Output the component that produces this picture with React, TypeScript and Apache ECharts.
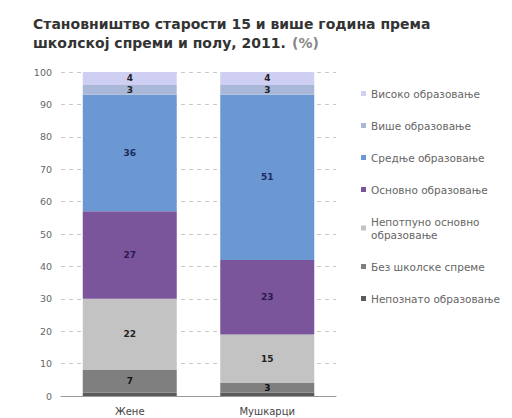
import React, { useEffect, useRef } from "react";
import * as echarts from "echarts";

const categories = ["Жене", "Мушкарци"];
const seriesNames = [
  "Непознато образовање",
  "Без школске спреме",
  "Непотпуно основно образовање",
  "Основно образовање",
  "Средње образовање",
  "Више образовање",
  "Високо образовање",
];
const nepoznato = [1, 1];
const bezSkolske = [7, 3];
const nepotpuno = [22, 15];
const osnovno = [27, 23];
const srednje = [36, 51];
const vise = [3, 3];
const visoko = [4, 4];
const yTicks = [0, 10, 20, 30, 40, 50, 60, 70, 80, 90, 100];

const seriesValues = [nepoznato, bezSkolske, nepotpuno, osnovno, srednje, vise, visoko];
const colors = ["#5a5a5a", "#7f7f7f", "#c3c3c3", "#7a559c", "#6b97d2", "#a9b8d8", "#cfcff4"];
const labelColors = ["#111", "#111", "#222", "#2b1a4d", "#1b2b60", "#222", "#222"];
const showLabel = [false, true, true, true, true, true, true];
const legendOrder = [...seriesNames].reverse();

export default function App() {
  const ref = useRef<HTMLDivElement>(null);
  useEffect(() => {
    const chart = echarts.init(ref.current!, null, { renderer: "svg" });
    const font = "DejaVu Sans";
    chart.setOption({
      animation: false,
      textStyle: { fontFamily: font },
      title: {
        left: 20,
        top: 1,
        text:
          "{b|Становништво старости 15 и више година према}\n{b|школској спреми и полу, 2011.} {g|(%)}",
        textStyle: {
          rich: {
            b: { fontFamily: font, fontSize: 14, fontWeight: "bold", color: "#333", lineHeight: 19 },
            g: { fontFamily: font, fontSize: 14, color: "#888", lineHeight: 19 },
          },
        },
      },
      legend: {
        orient: "vertical",
        left: 348,
        top: 74,
        data: legendOrder,
        icon: "rect",
        itemWidth: 5,
        itemHeight: 5,
        itemGap: 19,
        formatter: (n: string) =>
          n === "Непотпуно основно образовање" ? "Непотпуно основно\nобразовање" : n,
        textStyle: { fontFamily: font, fontSize: 10.5, color: "#666", lineHeight: 13 },
      },
      grid: { left: 53, top: 64, width: 275, height: 324 },
      xAxis: {
        type: "category",
        data: categories,
        axisTick: { show: false },
        axisLine: { lineStyle: { color: "#999" } },
        axisLabel: { fontFamily: font, fontSize: 10, color: "#444", margin: 10 },
      },
      yAxis: {
        type: "value",
        min: yTicks[0],
        max: yTicks[yTicks.length - 1],
        interval: 10,
        axisLine: { show: false },
        axisTick: { show: false },
        axisLabel: { fontFamily: font, fontSize: 9.5, color: "#666", margin: 9 },
        splitLine: { lineStyle: { color: "#c8c8c8", type: [4, 4] } },
      },
      series: seriesNames.map((name, i) => ({
        name,
        type: "bar",
        stack: "total",
        barWidth: 94,
        data: seriesValues[i],
        itemStyle: { color: colors[i] },
        label: {
          show: showLabel[i],
          position: "inside",
          fontFamily: font,
          fontSize: 9,
          fontWeight: "bold",
          color: labelColors[i],
        },
      })),
    });
    return () => chart.dispose();
  }, []);
  return <div ref={ref} style={{ width: 504, height: 410 }} />;
}
